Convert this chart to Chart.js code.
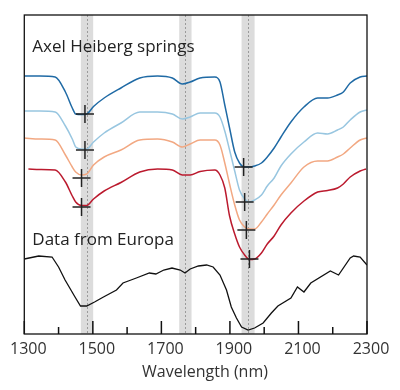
<!DOCTYPE html>
<html>
<head>
<meta charset="utf-8">
<script src="https://cdn.jsdelivr.net/npm/chart.js@4/dist/chart.umd.min.js"></script>
<style>
html,body{margin:0;padding:0;background:#fff;}
#wrap{width:400px;height:390px;}
</style>
</head>
<body>
<div id="wrap"><canvas id="c" width="400" height="390"></canvas></div>
<script>
// ---- data (wavelength in nm, relative reflectance in arbitrary offset units) ----
const springWl = [1300,1345,1390,1420,1440,1450,1467,1482,1502,1533,1582,1637,1689,1732,1761,1784,1813,1856,1871,1885,1899,1914,1928,1943,1957,1972,1992,2009,2029,2049,2078,2116,2156,2185,2214,2231,2251,2280,2300];
const redWl = [1312,1345,1390,1420,1440,1450,1467,1482,1502,1533,1582,1637,1689,1732,1761,1784,1813,1856,1871,1885,1899,1914,1928,1943,1957,1972,1992,2009,2029,2049,2078,2116,2156,2185,2214,2231,2251,2280,2297];
const spring1 = [258,258,257,242,226,220,219.5,220,227.5,236,246,256,258,256,250,252,256,257,252,229,206,182,171,167,167,168,171,177,186,197,212,227,236,236,239,242,251,257,258];
const spring2 = [223,223,222,208,195,187,185,185,192,201,211,222,222,220,215,217,221,221,217,203,184,163,144,135,132,134,139,148,156,168,180,192,201,200,204,207,214,222,224];
const spring3 = [196,195,194,179,167,162,159,160,169,177,184,194,195,192,187,190,194,194,189,171,150,129,114,107,105,105,112,120,129,139,151,167,173,173,177,180,186,194,196];
const spring4 = [165,164.5,164,152,138,132,128.5,128.5,135,143,151.5,162,165,164,159,159,162.5,164,159,146,118,100,87,79,74.5,75,81,90,98,109,121,133,142,143.5,146,150,157,163,165];
const europaWl = [1300,1342,1381,1400,1419,1448,1464,1482,1505,1531,1569,1588,1627,1665,1684,1707,1731,1755,1769,1784,1808,1832,1851,1871,1890,1904,1919,1934,1953,1972,1997,2021,2040,2078,2097,2116,2136,2193,2217,2251,2261,2280,2300];
const europa = [75,78,77,67,54,37,28,28,32,37,44,51,56,61,60,64,66,64,61,65,68,69,67,59,44,27,16,7,4,6,11,21,28,36,47,42,51,63,59,76,78,77,69];
const minimaWl = [1477,1477,1467,1467,1940,1943,1948,1957];
const minimaVal = [220,184,156,127,167,132,104,75];
const bandLo = [1465,1752,1934];
const bandHi = [1501,1788,1972];
const bandCentre = [1483,1769,1953];
const xTicks = [1300,1400,1500,1600,1700,1800,1900,2000,2100,2200,2300];
const labelTop = 'Axel Heiberg springs';
const labelBottom = 'Data from Europa';
const xTitle = 'Wavelength (nm)';

const pts = (xs, ys) => xs.map((x, i) => ({x, y: ys[i]}));
const FONT = '"Open Sans", "Noto Sans", sans-serif';

const decor = {
  id: 'decor',
  beforeDatasetsDraw(chart) {
    const {ctx, chartArea: a, scales: {x}} = chart;
    ctx.save();
    ctx.fillStyle = '#dcdcdc';
    bandLo.forEach((lo, i) => {
      const x0 = x.getPixelForValue(lo), x1 = x.getPixelForValue(bandHi[i]);
      ctx.fillRect(x0, a.top, x1 - x0, a.bottom - a.top);
    });
    ctx.strokeStyle = '#9a9a9a';
    ctx.lineWidth = 1;
    ctx.setLineDash([2, 2]);
    bandCentre.forEach(v => {
      const px = Math.round(x.getPixelForValue(v)) + 0.5;
      ctx.beginPath(); ctx.moveTo(px, a.top); ctx.lineTo(px, a.bottom); ctx.stroke();
    });
    ctx.restore();
  },
  afterDatasetsDraw(chart) {
    const {ctx, chartArea: a, scales: {x}} = chart;
    ctx.save();
    ctx.strokeStyle = '#111';
    ctx.lineWidth = 1.3;
    ctx.strokeRect(a.left, a.top, a.right - a.left, a.bottom - a.top);
    ctx.lineWidth = 1.5;
    xTicks.forEach((v, i) => {
      const px = x.getPixelForValue(v);
      const len = i % 2 === 0 ? 13 : 7;
      ctx.beginPath(); ctx.moveTo(px, a.bottom); ctx.lineTo(px, a.bottom - len); ctx.stroke();
    });
    ctx.fillStyle = '#222';
    ctx.font = '17px ' + FONT;
    ctx.textBaseline = 'alphabetic';
    ctx.textAlign = 'left';
    ctx.fillText(labelTop, a.left + 8, 52);
    ctx.fillText(labelBottom, a.left + 8, 245);
    ctx.font = '16px ' + FONT;
    ctx.textAlign = 'center';
    ctx.fillStyle = '#333';
    ctx.fillText(xTitle, 205, 377);
    ctx.restore();
  }
};

const line = (data, color, extra = {}) => Object.assign({
  type: 'line', data, borderColor: color, borderWidth: 1.5, pointRadius: 0,
  fill: false, cubicInterpolationMode: 'monotone', order: 2
}, extra);

new Chart(document.getElementById('c'), {
  type: 'line',
  data: {
    datasets: [
      {type: 'scatter', data: pts(minimaWl, minimaVal), pointStyle: 'cross', pointRadius: 9,
       borderColor: '#222', borderWidth: 1.5, backgroundColor: '#222', showLine: false, order: 0},
      line(pts(springWl, spring1), '#1f6aa5'),
      line(pts(springWl, spring2), '#98c6e0'),
      line(pts(springWl, spring3), '#f2a882'),
      line(pts(redWl, spring4), '#bb1a2e'),
      line(pts(europaWl, europa), '#111', {tension: 0, cubicInterpolationMode: 'default', borderWidth: 1.3})
    ]
  },
  options: {
    responsive: false,
    animation: false,
    events: [],
    layout: {padding: {left: 20, right: 33, top: 15, bottom: 0}},
    plugins: {legend: {display: false}, tooltip: {enabled: false}},
    scales: {
      x: {
        type: 'linear', min: 1300, max: 2300,
        grid: {display: false, drawTicks: false},
        border: {display: false},
        afterFit(s) { s.height = 56; },
        ticks: {stepSize: 200, autoSkip: false, maxRotation: 0, padding: 6, labelOffset: 4,
                color: '#333', font: {family: FONT, size: 16},
                callback: v => String(v)}
      },
      y: {type: 'linear', min: 0, max: 319, display: false}
    }
  },
  plugins: [decor]
});
</script>
</body>
</html>
